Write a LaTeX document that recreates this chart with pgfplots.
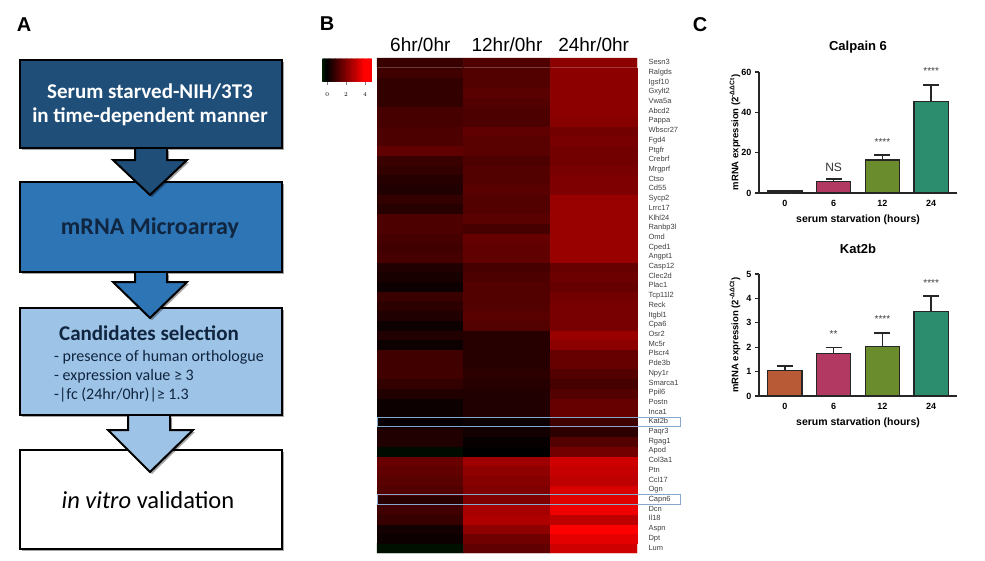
\documentclass[border=0pt]{standalone}
\usepackage{fontspec}
\setmainfont{Liberation Sans}
\newfontfamily\calibri{Carlito}
\usepackage{pgfplots}
\pgfplotsset{compat=1.18}
\usetikzlibrary{shadows}

\definecolor{boxA}{HTML}{1F4E79}
\definecolor{boxB}{HTML}{2E75B6}
\definecolor{boxC}{HTML}{9DC3E6}
\definecolor{navy}{HTML}{10253F}
\definecolor{hl}{HTML}{86A9CB}
\definecolor{c0}{HTML}{B85A35}
\definecolor{c6}{HTML}{B23A62}
\definecolor{c12}{HTML}{6A8C2C}
\definecolor{c24}{HTML}{2B8C6E}

% heatmap values (log2 fold change), y = 0 (Lum) ... 50 (Sesn3)
\pgfplotstableread{
x y v
0 0 -0.3
1 0 1.5
2 0 3.25
0 1 0.2
1 1 1.75
2 1 3.6
0 2 0.3
1 2 2.25
2 2 4.0
0 3 0.85
1 3 2.75
2 3 3.0
0 4 1.0
1 4 2.6
2 4 3.75
0 5 0.65
1 5 2.0
2 5 3.5
0 6 1.3
1 6 2.0
2 6 3.4
0 7 1.4
1 7 2.1
2 7 3.0
0 8 1.5
1 8 2.25
2 8 3.1
0 9 1.65
1 9 2.5
2 9 3.25
0 10 -0.2
1 10 0.0
2 10 1.8
0 11 0.5
1 11 0.1
2 11 1.3
0 12 0.5
1 12 0.3
2 12 0.7
0 13 0.1
1 13 0.2
2 13 1.0
0 14 0.2
1 14 0.5
2 14 1.6
0 15 0.2
1 15 0.5
2 15 1.6
0 16 0.5
1 16 0.5
2 16 1.3
0 17 0.8
1 17 0.6
2 17 1.1
0 18 1.0
1 18 0.7
2 18 1.3
0 19 1.0
1 19 0.6
2 19 1.6
0 20 1.0
1 20 0.6
2 20 1.6
0 21 0.2
1 21 0.6
2 21 2.2
0 22 0.5
1 22 0.6
2 22 2.4
0 23 0.2
1 23 1.3
2 23 1.9
0 24 0.5
1 24 1.4
2 24 1.9
0 25 0.7
1 25 1.3
2 25 1.9
0 26 0.9
1 26 1.3
2 26 1.8
0 27 0.2
1 27 1.3
2 27 1.6
0 28 0.4
1 28 1.2
2 28 1.7
0 29 0.5
1 29 1.1
2 29 1.6
0 30 1.1
1 30 1.5
2 30 2.4
0 31 1.0
1 31 1.5
2 31 2.4
0 32 1.1
1 32 1.6
2 32 2.4
0 33 1.2
1 33 1.1
2 33 2.4
0 34 1.2
1 34 1.4
2 34 2.4
0 35 0.6
1 35 1.3
2 35 2.4
0 36 0.8
1 36 1.3
2 36 2.4
0 37 0.5
1 37 1.4
2 37 2.0
0 38 0.6
1 38 1.3
2 38 2.0
0 39 0.8
1 39 1.3
2 39 1.9
0 40 0.9
1 40 1.2
2 40 1.8
0 41 1.5
1 41 1.4
2 41 1.8
0 42 1.2
1 42 1.4
2 42 1.9
0 43 1.2
1 43 1.5
2 43 1.8
0 44 1.1
1 44 1.2
2 44 2.1
0 45 1.1
1 45 1.2
2 45 2.2
0 46 0.8
1 46 1.3
2 46 2.2
0 47 0.8
1 47 1.4
2 47 2.2
0 48 0.8
1 48 1.3
2 48 2.2
0 49 1.0
1 49 1.3
2 49 2.2
0 50 0.9
1 50 1.25
2 50 2.2
}\heatdata

\pgfplotsset{
  barax/.style={
    scale only axis, width=198pt, anchor=north west,
    xmin=-0.53, xmax=3.53, ymin=0,
    axis x line*=bottom, axis y line*=left,
    axis line style={line width=1.3pt, draw=black!85},
    xtick={0,1,2,3}, xticklabels={0,6,12,24},
    xtick style={draw=none},
    ytick style={line width=1.3pt, draw=black!85},
    tick align=outside, major tick length=4pt,
    ticklabel style={font=\bfseries\fontsize{9}{9}\selectfont},
    /pgf/number format/assume math mode=true,
    title style={font=\bfseries\fontsize{13}{13}\selectfont,
      at={(axis description cs:0.5,1)}, anchor=center, yshift=19pt},
    xlabel={serum starvation (hours)},
    xlabel style={font=\bfseries\fontsize{10.5}{11}\selectfont,
      at={(axis description cs:0.5,0)}, anchor=center, yshift=-27pt},
    ylabel={mRNA expression (2\textsuperscript{-ΔΔCt})},
    ylabel style={font=\bfseries\fontsize{9.5}{10}\selectfont,
      at={(axis description cs:0,0.5)}, anchor=center, yshift=24pt},
    clip=false,
  },
  mybar/.style={ybar, bar width=0.7, bar shift=0pt, fill=#1,
    draw=black!85, line width=1.2pt,
    error bars/.cd, y dir=plus, y explicit,
    error bar style={line width=1.6pt, draw=black!85},
    error mark options={rotate=90, mark size=8pt, line width=1.6pt, draw=black!85}},
}
\tikzset{stars/.style={font=\fontsize{10}{10}\selectfont, text=black!75}}

\begin{document}
\begin{tikzpicture}
\path[use as bounding box] (0pt,0pt) rectangle (985pt,-560pt);

% ---------------- panel A: workflow ----------------
\begin{scope}[x=1pt, y=-1pt]
\tikzset{shad/.style={drop shadow={shadow xshift=2pt, shadow yshift=-2pt, opacity=0.35, fill=black}}}
\node[font=\bfseries\fontsize{20}{20}\selectfont] at (24,25) {A};
\node[font=\bfseries\fontsize{20}{20}\selectfont] at (327,24) {B};
\node[font=\bfseries\fontsize{20}{20}\selectfont] at (700,25) {C};

\draw[line width=2pt, fill=boxA, shad] (20,60) rectangle (282,148);
\draw[line width=2pt, fill=boxB, shad] (20,182) rectangle (282,272);
\draw[line width=2pt, fill=boxC, shad] (20,308) rectangle (282,415);
\draw[line width=2pt, fill=white, shad] (20,450) rectangle (282,549);

% arrows
\fill[boxA, shad] (135,149)--(135,160)--(113,160)--(150,195)--(187,160)--(167,160)--(167,149)--cycle;
\draw[line width=2pt, line join=miter] (135,149)--(135,160)--(113,160)--(150,195)--(187,160)--(167,160)--(167,149);
\fill[boxB, shad] (135,273)--(135,282)--(113,282)--(150,318)--(187,282)--(167,282)--(167,273)--cycle;
\draw[line width=2pt, line join=miter] (135,273)--(135,282)--(113,282)--(150,318)--(187,282)--(167,282)--(167,273);
\fill[boxC, shad] (128,416)--(128,430)--(108,430)--(150,472)--(193,430)--(170,430)--(170,416)--cycle;
\draw[line width=2pt, line join=miter] (128,416)--(128,430)--(108,430)--(150,472)--(193,430)--(170,430)--(170,416);

\node[font=\calibri\bfseries\fontsize{21}{21}\selectfont, text=white] at (150,92) {Serum starved-NIH/3T3};
\node[font=\calibri\bfseries\fontsize{21}{21}\selectfont, text=white] at (150,117) {in time-dependent manner};
\node[font=\calibri\bfseries\fontsize{24}{24}\selectfont, text=navy] at (150,228) {mRNA Microarray};
\node[font=\calibri\bfseries\fontsize{21}{21}\selectfont, text=navy] at (149,333) {Candidates selection};
\node[font=\calibri\fontsize{16}{16}\selectfont, text=navy, anchor=west, inner sep=0pt] at (54,357) {- presence of human orthologue};
\node[font=\calibri\fontsize{16}{16}\selectfont, text=navy, anchor=west, inner sep=0pt] at (54,376) {- expression value ≥ 3};
\node[font=\calibri\fontsize{16}{16}\selectfont, text=navy, anchor=west, inner sep=0pt] at (54,395) {-|fc (24hr/0hr)|≥ 1.3};
\node[font=\calibri\fontsize{24.5}{24.5}\selectfont] at (148,500) {{\itshape in vitro} validation};
\end{scope}

% ---------------- panel B: heatmap ----------------
\begin{axis}[
  at={(377pt,-58pt)}, anchor=north west,
  scale only axis, width=260pt, height=495pt,
  xmin=-0.5, xmax=2.5, ymin=-0.5, ymax=50.5,
  axis line style={draw=none}, major tick length=0pt,
  xtick={0,1,2}, xticklabels={6hr/0hr,12hr/0hr,24hr/0hr},
  xticklabel pos=upper,
  xticklabel style={font=\fontsize{19}{19}\selectfont, yshift=3pt},
  ytick={0,...,50},
  yticklabels={Lum,Dpt,Aspn,Il18,Dcn,Capn6,Ogn,Ccl17,Ptn,Col3a1,Apod,Rgag1,Paqr3,Kat2b,Inca1,Postn,Ppil6,Smarca1,Npy1r,Pde3b,Plscr4,Mc5r,Osr2,Cpa6,Itgbl1,Reck,Tcp11l2,Plac1,Clec2d,Casp12,Angpt1,Cped1,Omd,Ranbp3l,Klhl24,Lrrc17,Sycp2,Cd55,Ctso,Mrgprf,Crebrf,Ptgfr,Fgd4,Wbscr27,Pappa,Abcd2,Vwa5a,Gxylt2,Igsf10,Ralgds,Sesn3},
  yticklabel pos=right,
  yticklabel style={font=\fontsize{7.5}{8}\selectfont, text=black!75, xshift=8pt,
    anchor=west, text height=5.4pt, text depth=1.6pt},
  colormap={hm}{rgb255(0cm)=(0,30,0); rgb255(0.55cm)=(0,0,0); rgb255(4.55cm)=(255,0,0); rgb255(5.3cm)=(255,0,0)},
  point meta min=-0.55, point meta max=4.75,
  colorbar horizontal,
  colorbar sampled,
  colorbar style={
    at={(parent axis.north west)}, anchor=north east, xshift=-5pt, yshift=8pt,
    scale only axis, width=50pt, height=23pt, samples=60,
    xtick={0,2,4}, axis line style={draw=none},
    major tick length=3pt, tick align=outside,
    xtick pos=left, xticklabel pos=left,
    tick style={draw=black!50, line width=0.4pt},
    xticklabel style={font=\fontsize{6.5}{6.5}\selectfont, yshift=-5pt},
  },
  clip=false,
]
\addplot[matrix plot*, mesh/cols=3, mesh/rows=51, point meta=explicit] table[x=x, y=y, meta=v] {\heatdata};
\draw[hl, line width=0.9pt] (axis cs:-0.49,12.5) rectangle (axis cs:3.0,13.5);
\draw[hl, line width=0.9pt] (axis cs:-0.49,4.5) rectangle (axis cs:3.0,5.5);
\end{axis}

% ---------------- panel C: qPCR ----------------
\begin{axis}[barax, at={(759pt,-72pt)}, height=121pt, ymax=60, ytick={0,20,40,60},
  title={Calpain 6}]
\addplot[mybar=c0] coordinates {(0,1.0) +- (0,0.2)};
\addplot[mybar=c6] coordinates {(1,5.6) +- (0,1.3)};
\addplot[mybar=c12] coordinates {(2,16.4) +- (0,2.4)};
\addplot[mybar=c24] coordinates {(3,45.3) +- (0,8.2)};
\node[font=\fontsize{12}{12}\selectfont, text=black!80] at (axis cs:1,12.9) {NS};
\node[stars] at (axis cs:2,25.3) {****};
\node[stars] at (axis cs:3,60.5) {****};
\end{axis}

\begin{axis}[barax, at={(759pt,-274pt)}, height=122pt, ymax=5, ytick={0,1,2,3,4,5},
  title={Kat2b}]
\addplot[mybar=c0] coordinates {(0,1.04) +- (0,0.19)};
\addplot[mybar=c6] coordinates {(1,1.75) +- (0,0.23)};
\addplot[mybar=c12] coordinates {(2,2.02) +- (0,0.55)};
\addplot[mybar=c24] coordinates {(3,3.46) +- (0,0.64)};
\node[stars] at (axis cs:1,2.54) {**};
\node[stars] at (axis cs:2,3.16) {****};
\node[stars] at (axis cs:3,4.63) {****};
\end{axis}
\end{tikzpicture}
\end{document}
